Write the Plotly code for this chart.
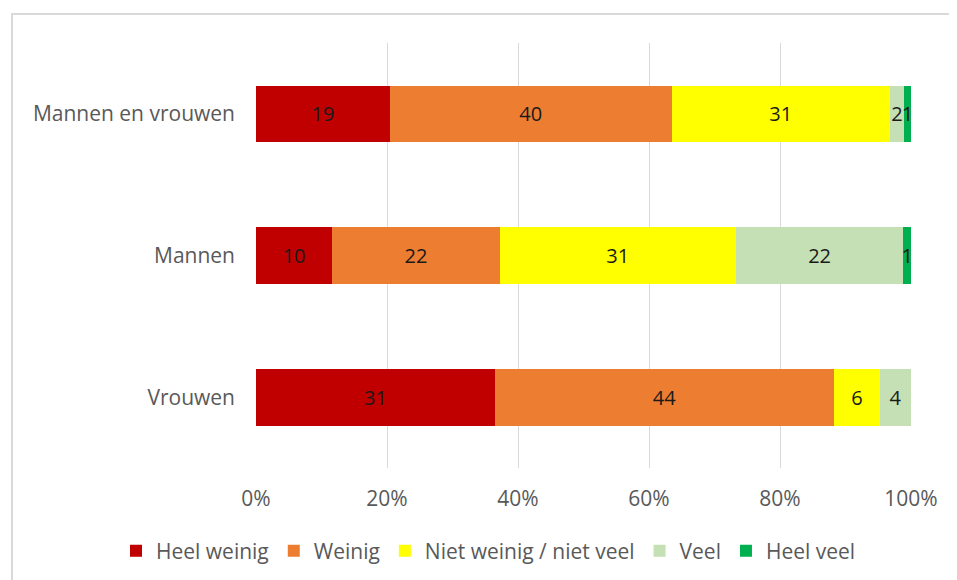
import plotly.graph_objects as go

# Categorieën (van boven naar beneden)
groepen = ['Mannen en vrouwen', 'Mannen', 'Vrouwen']

# Antwoordcategorieën en kleuren
reeksen = ['Heel weinig', 'Weinig', 'Niet weinig / niet veel', 'Veel', 'Heel veel']
kleuren = ['#C00000', '#ED7D31', '#FFFF00', '#C5E0B4', '#00B050']

# Waarden per reeks (volgorde = groepen)
heel_weinig = [19, 10, 31]
weinig = [40, 22, 44]
niet_weinig_niet_veel = [31, 31, 6]
veel = [2, 22, 4]
heel_veel = [1, 1, 0]

waarden = [heel_weinig, weinig, niet_weinig_niet_veel, veel, heel_veel]

x_ticks = [0, 20, 40, 60, 80, 100]
x_labels = ['0%', '20%', '40%', '60%', '80%', '100%']

FONT = 'Open Sans'
FS = 21
# pagina heeft 8px marge, dus alles 8px naar links/boven
OFF = 8
W, H = 957 - OFF, 580 - OFF
L, R, T = 256 - OFF, 46, 43 - OFF
B = H - (468 - OFF)

fig = go.Figure()

for naam, kleur, vals in zip(reeksen, kleuren, waarden):
    fig.add_trace(go.Bar(
        y=groepen,
        x=vals,
        name=naam,
        orientation='h',
        marker=dict(color=kleur, line=dict(width=0)),
        text=[str(v) if v else '' for v in vals],
        textposition='inside',
        insidetextanchor='middle',
        textangle=0,
        constraintext='none',
        textfont=dict(family=FONT, size=20, color='#1a1a1a'),
    ))

# pixel (schermpositie) -> paper coördinaten
pw, ph = W - L - R, H - T - B
def px(x):
    return (x - OFF - L) / pw
def py(y):
    return (H - B - (y - OFF)) / ph

fig.add_shape(type='rect', xref='paper', yref='paper',
              x0=px(12), x1=px(1100), y0=py(700), y1=py(14),
              line=dict(color='#D9D9D9', width=2), fillcolor='rgba(0,0,0,0)')

fig.update_layout(
    barmode='stack',
    barnorm='percent',
    bargap=0.6,
    width=W,
    height=H,
    margin=dict(l=L, r=R, t=T, b=B, autoexpand=False),
    plot_bgcolor='white',
    paper_bgcolor='white',
    font=dict(family=FONT, size=FS, color='#595959'),
    legend=dict(
        orientation='h',
        x=px(116), xanchor='left',
        y=py(551), yanchor='middle',
        font=dict(family=FONT, size=FS, color='#595959'),
        traceorder='normal',
        itemwidth=30,
    ),
    showlegend=True,
)

fig.update_xaxes(
    range=[0, 100],
    tickvals=x_ticks,
    ticktext=x_labels,
    showgrid=True,
    gridcolor='#D9D9D9',
    gridwidth=1,
    zeroline=False,
    showline=False,
    ticks='',
    ticklabelstandoff=16,
    tickfont=dict(family=FONT, size=FS, color='#595959'),
)

fig.update_yaxes(
    categoryorder='array',
    categoryarray=groepen[::-1],
    showgrid=False,
    zeroline=False,
    showline=False,
    ticks='',
    ticklabelstandoff=20,
    tickfont=dict(family=FONT, size=FS, color='#595959'),
)

fig.write_html('out.html')
